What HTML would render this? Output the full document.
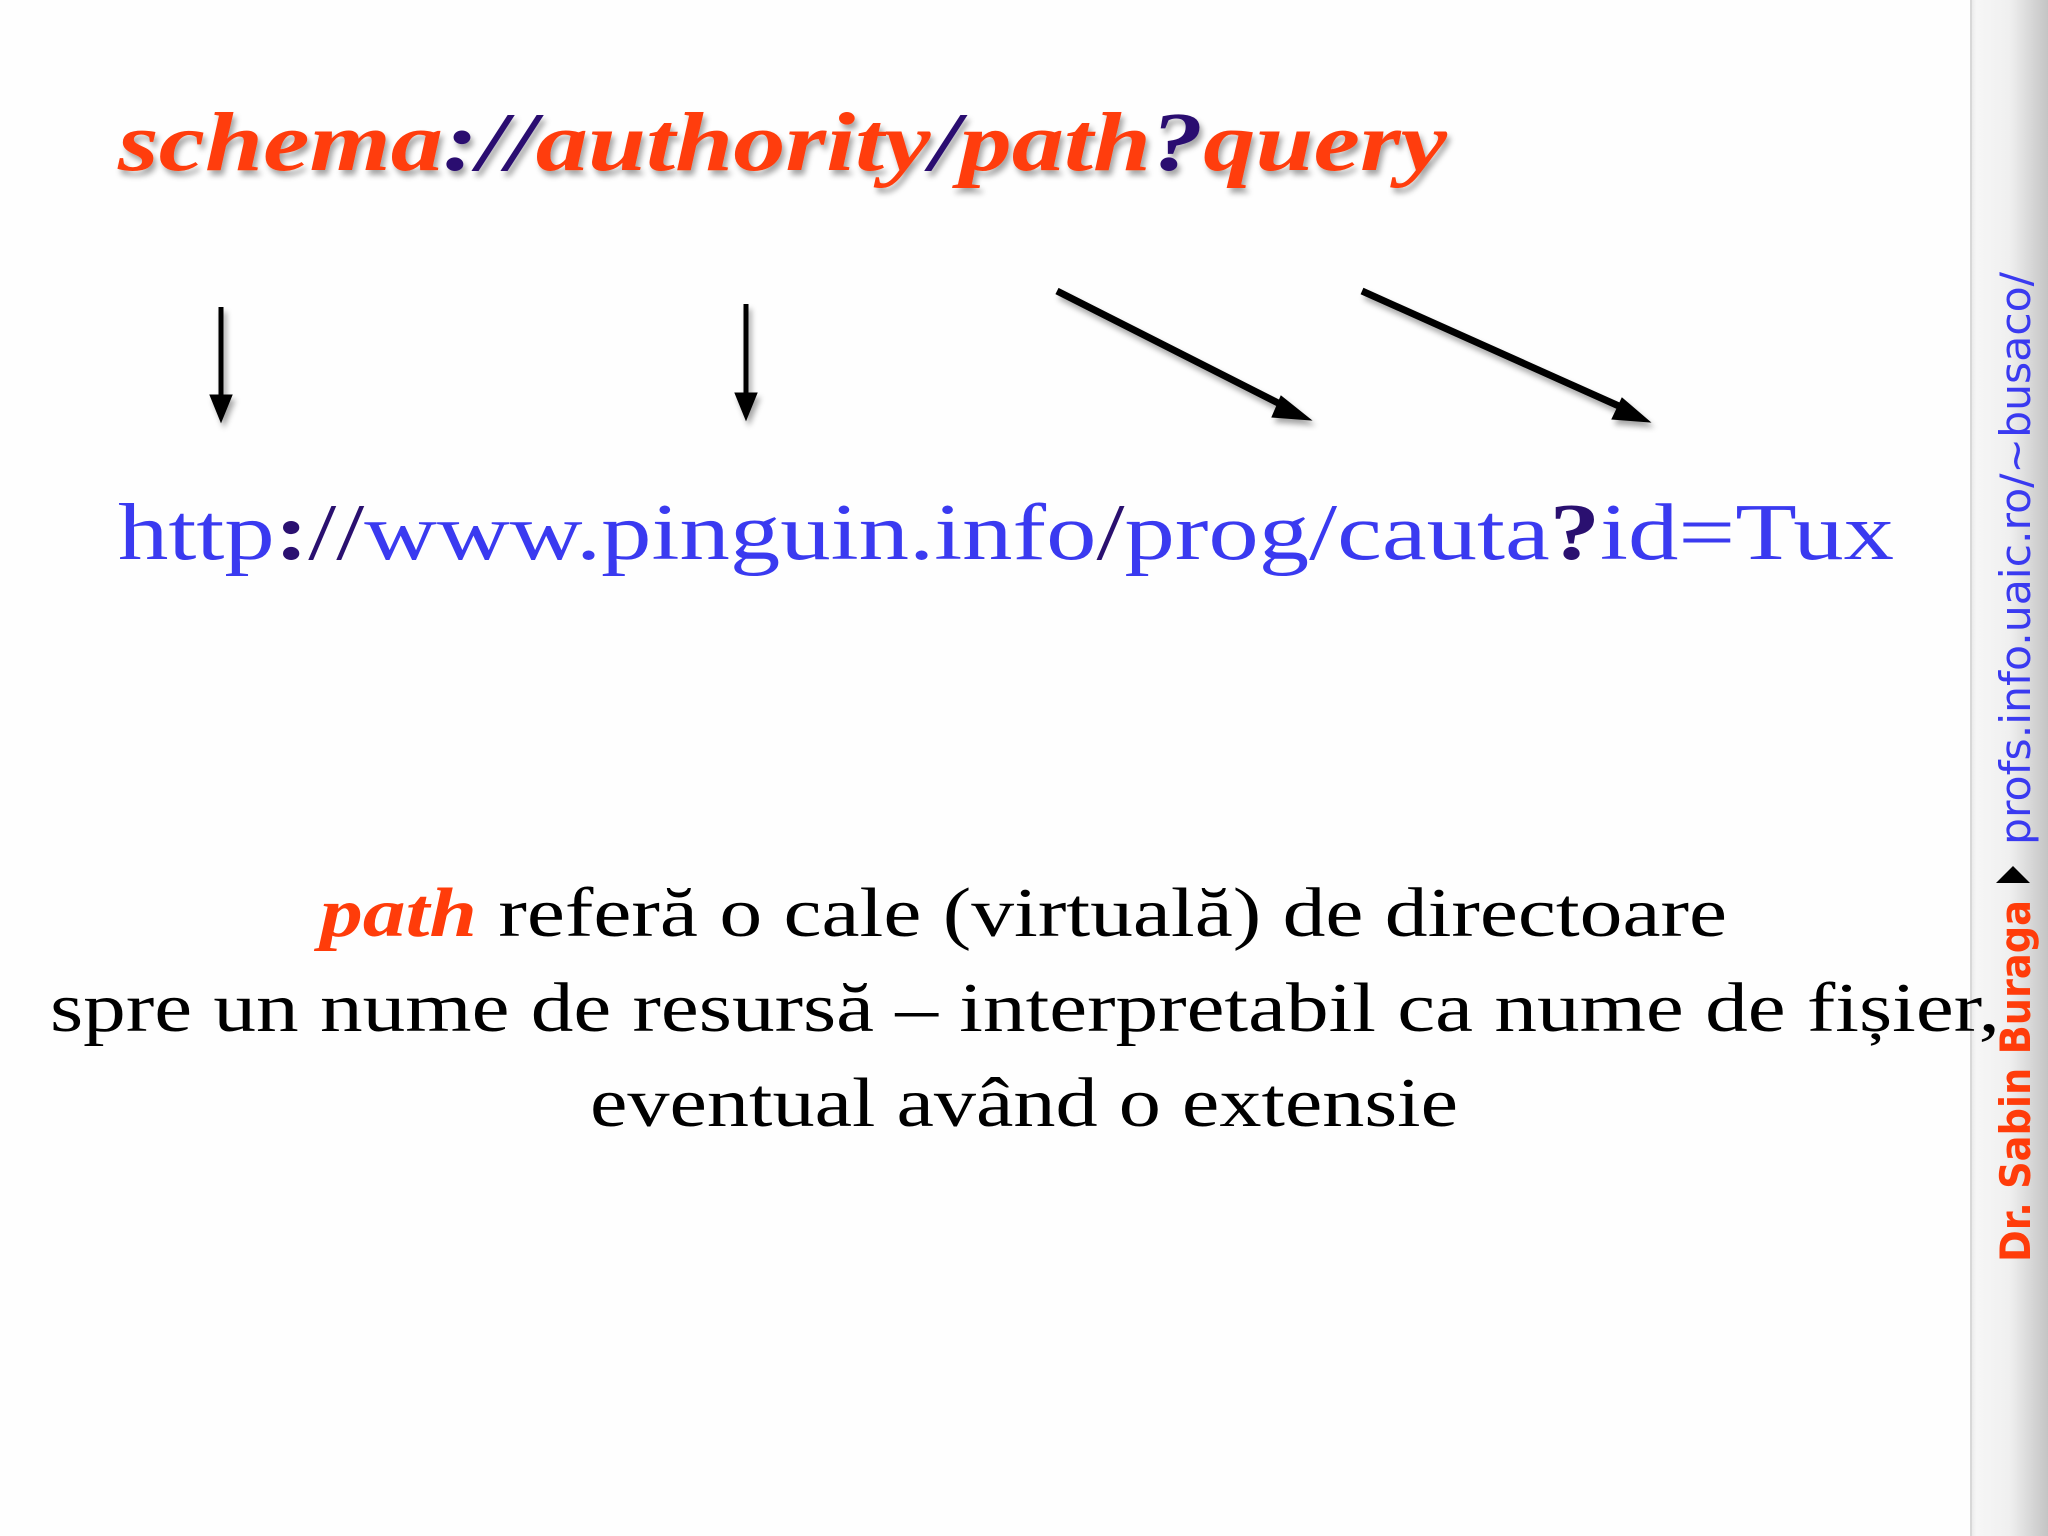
<!DOCTYPE html>
<html><head><meta charset="utf-8"><style>
html,body{margin:0;padding:0;background:#fff;}
svg{display:block}
</style></head><body>
<svg width="2048" height="1536" viewBox="0 0 2048 1536" xmlns="http://www.w3.org/2000/svg">
<defs>
<linearGradient id="side" x1="0" x2="1" y1="0" y2="0">
<stop offset="0" stop-color="#e6e6e6"/><stop offset="0.08" stop-color="#f6f6f6"/><stop offset="0.5" stop-color="#f0f0f0"/><stop offset="1" stop-color="#c4c4c4"/>
</linearGradient>
<filter id="sh" x="-5%" y="-20%" width="110%" height="150%"><feDropShadow dx="3" dy="5" stdDeviation="3" flood-color="#000" flood-opacity="0.35"/></filter>
</defs>
<rect x="0" y="0" width="2048" height="1536" fill="#fefefe"/>
<rect x="1970" y="0" width="78" height="1536" fill="url(#side)"/>
<line x1="1971" y1="0" x2="1971" y2="1536" stroke="#d8d8d8" stroke-width="2"/>

<text x="118" y="170" font-family="Liberation Serif, serif" font-weight="bold" font-style="italic" font-size="84" textLength="1329" lengthAdjust="spacingAndGlyphs" filter="url(#sh)"><tspan fill="#ff3c0a">schema</tspan><tspan fill="#2a1070">://</tspan><tspan fill="#ff3c0a">authority</tspan><tspan fill="#2a1070">/</tspan><tspan fill="#ff3c0a">path</tspan><tspan fill="#2a1070">?</tspan><tspan fill="#ff3c0a">query</tspan></text>

<g stroke="#000" fill="#000" filter="url(#sh)">
<line x1="221" y1="307" x2="221" y2="400" stroke-width="5"/>
<polygon points="210,395 232,395 221,422"/>
<line x1="746" y1="304" x2="746" y2="398" stroke-width="5"/>
<polygon points="735,393 757,393 746,420"/>
<line x1="1057" y1="291" x2="1290" y2="409" stroke-width="7"/>
<polygon points="1281,396 1311,420 1272,417"/>
<line x1="1362" y1="291" x2="1630" y2="411" stroke-width="7"/>
<polygon points="1622,398 1650,422 1612,419"/>
</g>

<text x="118" y="559" font-family="Liberation Serif, serif" font-size="80" textLength="1776" lengthAdjust="spacingAndGlyphs" fill="#3a3af0">http<tspan fill="#2a1070" font-weight="bold">:</tspan><tspan fill="#2a1070">//</tspan>www.pinguin.info<tspan fill="#2a1070">/</tspan>prog/cauta<tspan fill="#2a1070" font-weight="bold">?</tspan>id=Tux</text>

<g font-family="Liberation Serif, serif" font-size="70" fill="#000">
<text x="320" y="936" textLength="1407" lengthAdjust="spacingAndGlyphs"><tspan fill="#ff3c0a" font-weight="bold" font-style="italic">path</tspan> referă o cale (virtuală) de directoare</text>
<text x="50" y="1031" textLength="1950" lengthAdjust="spacingAndGlyphs">spre un nume de resursă – interpretabil ca nume de fișier,</text>
<text x="590" y="1126" textLength="868" lengthAdjust="spacingAndGlyphs">eventual având o extensie</text>
</g>

<text transform="translate(2030,1262) rotate(-90)" font-family="DejaVu Sans, sans-serif" font-weight="bold" font-size="42" fill="#ff3c0a" textLength="362" lengthAdjust="spacingAndGlyphs">Dr. Sabin Buraga</text>
<polygon points="1996,883 2030,883 2013,866" fill="#000"/>
<text transform="translate(2030,845) rotate(-90)" font-family="DejaVu Sans, sans-serif" font-size="42" fill="#3a3af0" textLength="573" lengthAdjust="spacingAndGlyphs">profs.info.uaic.ro/~busaco/</text>
</svg>
</body></html>
